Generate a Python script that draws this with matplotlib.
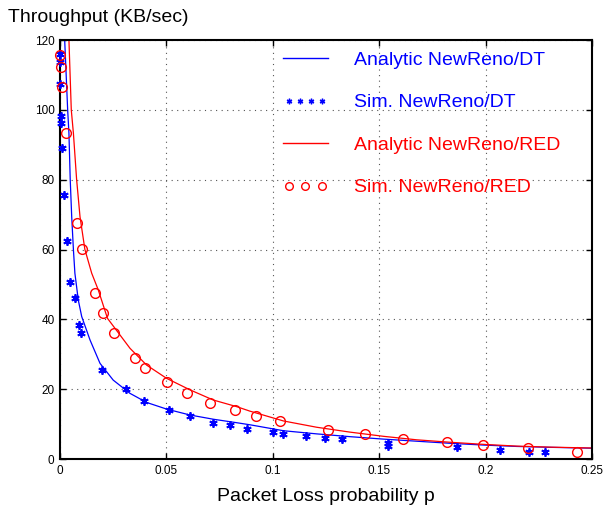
import matplotlib
matplotlib.use("Agg")
import matplotlib.pyplot as plt
from matplotlib.lines import Line2D
from matplotlib.legend_handler import HandlerLine2D

plt.rcParams["font.family"] = ["Liberation Sans", "DejaVu Sans"]

BLUE = "#0000ff"
RED = "#ff0000"

# analytic curves
p_ana_dt = [0.0022, 0.0036, 0.0042, 0.0048, 0.0055, 0.0063, 0.0070, 0.0086, 0.0102,
            0.0141, 0.0188, 0.025, 0.0329, 0.0407, 0.0501, 0.0611, 0.072, 0.083,
            0.0893, 0.105, 0.1206, 0.1363, 0.152, 0.1676, 0.1833, 0.1989, 0.2146,
            0.2303, 0.25]
t_ana_dt = [120, 100, 93.3, 80.1, 69.4, 60.0, 53.2, 45.5, 40.8,
            34.1, 27.4, 22.6, 18.8, 16.2, 14.3, 12.6, 11.4, 10.4,
            9.8, 8.1, 7.2, 6.4, 5.7, 5.1, 4.5, 4.0, 3.6,
            3.35, 3.1]

p_ana_red = [0.0042, 0.0053, 0.0063, 0.0078, 0.0094, 0.0117, 0.0149, 0.018, 0.0223,
             0.0329, 0.0407, 0.0501, 0.0611, 0.072, 0.083, 0.0893, 0.105, 0.1206,
             0.1363, 0.152, 0.1676, 0.1833, 0.1989, 0.2146, 0.2303, 0.25]
t_ana_red = [120, 100, 93.3, 80.1, 69.4, 60.0, 53.2, 48.4, 40.3,
             31.7, 26.9, 23.1, 19.8, 16.9, 15.0, 13.7, 10.9, 9.1,
             7.7, 6.5, 5.5, 4.8, 4.2, 3.7, 3.4, 3.15]

# simulation points
p_sim_dt = [0.0, 0.0, 0.0002, 0.0004, 0.0003, 0.0008, 0.0018, 0.0035, 0.0048, 0.0069,
            0.0088, 0.010, 0.0199, 0.0309, 0.0395, 0.0511, 0.0609, 0.072, 0.0799, 0.0879,
            0.0999, 0.105, 0.1156, 0.1245, 0.1324, 0.1543, 0.1543, 0.1867, 0.2066, 0.2204,
            0.2280]
t_sim_dt = [115.9, 113.7, 107.4, 98.1, 96.1, 89.0, 75.6, 62.4, 50.8, 46.0,
            38.5, 36.2, 25.5, 20.0, 16.7, 13.9, 12.4, 10.4, 9.6, 8.7,
            7.7, 7.1, 6.5, 6.1, 5.7, 4.6, 3.8, 3.35, 2.6, 2.1,
            2.0]

p_sim_red = [0.0, 0.0003, 0.0011, 0.0029, 0.008, 0.0104, 0.0163, 0.0202, 0.0255, 0.0351,
             0.0398, 0.0501, 0.0597, 0.0703, 0.0824, 0.0922, 0.1034, 0.1257, 0.1432, 0.1614,
             0.1819, 0.1986, 0.2201, 0.2431]
t_sim_red = [115.8, 112.3, 106.4, 93.4, 67.7, 60.2, 47.5, 41.9, 36.0, 28.8,
             26.2, 22.1, 18.9, 16.1, 14.0, 12.3, 10.9, 8.45, 7.25, 5.85,
             4.9, 4.0, 3.2, 1.9]

labels = ["Analytic NewReno/DT", "Sim. NewReno/DT", "Analytic NewReno/RED", "Sim. NewReno/RED"]
x_ticks = [0, 0.05, 0.1, 0.15, 0.2, 0.25]
x_ticklabels = ["0", "0.05", "0.1", "0.15", "0.2", "0.25"]
y_ticks = [0, 20, 40, 60, 80, 100, 120]

fig = plt.figure(figsize=(6.03, 5.09), dpi=100)
ax = fig.add_axes([0.0995, 0.0982, 0.8823, 0.8232])

ax.plot(p_ana_dt, t_ana_dt, color=BLUE, lw=0.9)
ax.plot(p_ana_red, t_ana_red, color=RED, lw=0.9)
ax.plot(p_sim_dt, t_sim_dt, ls="none", marker=(6, 2, 0), ms=6, mew=1.3,
        color=BLUE, clip_on=False, zorder=4)
ax.plot(p_sim_red, t_sim_red, ls="none", marker="o", ms=7, mew=1.0,
        mfc="none", mec=RED, clip_on=False, zorder=4)

ax.set_xlim(0, 0.25)
ax.set_ylim(0, 120)
ax.set_xticks(x_ticks)
ax.set_xticklabels(x_ticklabels)
ax.set_yticks(y_ticks)
ax.tick_params(direction="in", length=4, width=1, labelsize=8.5, pad=4,
               top=True, right=True)
ax.grid(True, color="#555555", ls=(0, (1, 4)), lw=0.8)
for s in ax.spines.values():
    s.set_linewidth(1.5)

# legend without frame, coloured labels
h = [Line2D([], [], color=BLUE, lw=1.0),
     Line2D([], [], ls="none", marker=(6, 2, 0), ms=4, mew=1.0, color=BLUE),
     Line2D([], [], color=RED, lw=1.0),
     Line2D([], [], ls="none", marker="o", ms=5.5, mew=1.0, mfc="none", mec=RED)]
leg = ax.legend(h, labels, loc="upper left", bbox_to_anchor=(0.419, 0.973),
                frameon=False, fontsize=14, handlelength=2.3, handletextpad=1.35,
                labelspacing=1.28, borderaxespad=0, borderpad=0,
                handler_map={h[1]: HandlerLine2D(numpoints=4),
                             h[3]: HandlerLine2D(numpoints=3)})
for t, c in zip(leg.get_texts(), [BLUE, BLUE, RED, RED]):
    t.set_color(c)

ax.set_xlabel("Packet Loss probability p", fontsize=14, labelpad=8)
fig.text(0.013, 0.965, "Throughput (KB/sec)", fontsize=14, ha="left", va="center")

fig.savefig("out.png", dpi=100)
